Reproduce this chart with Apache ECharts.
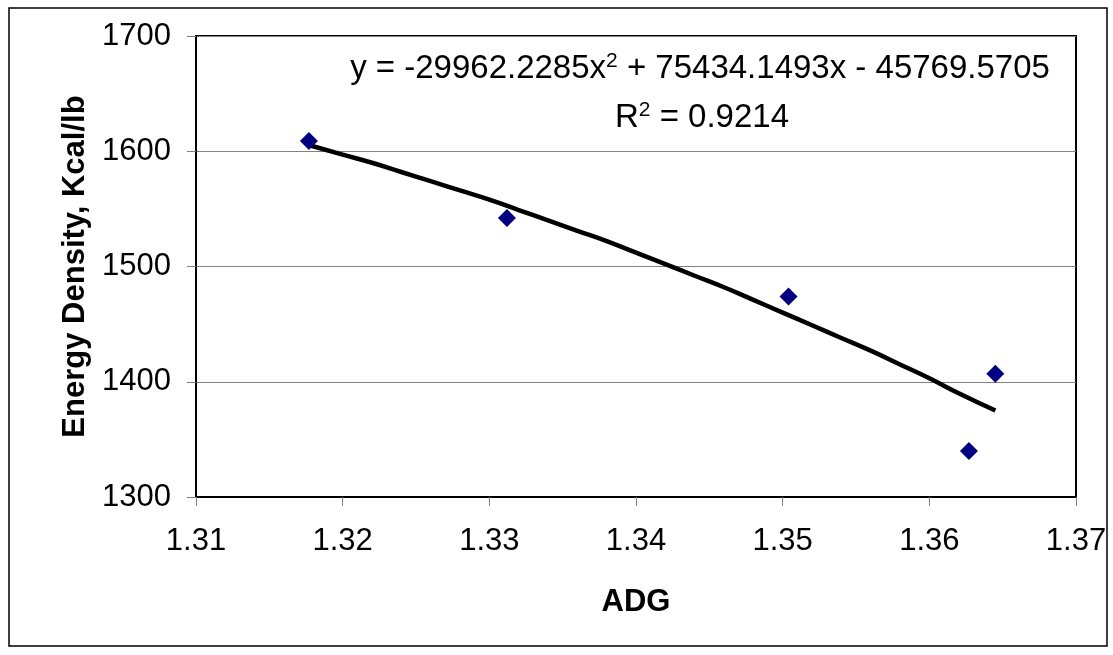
<!DOCTYPE html>
<html>
<head>
<meta charset="utf-8">
<script src="https://cdn.jsdelivr.net/npm/echarts@6/dist/echarts.min.js"></script>
<style>
html,body{margin:0;padding:0;background:#fff;}
#chart{width:1113px;height:655px;}
</style>
</head>
<body>
<div id="chart"></div>
<script>
// Observed data points (ADG, Energy Density)
const adg = [1.3177, 1.3312, 1.3504, 1.3627, 1.3645];
const energy = [1609, 1542, 1474, 1340, 1407];
// Trendline points
const trendX = [1.3178, 1.320, 1.322, 1.324, 1.326, 1.328, 1.330, 1.332, 1.334, 1.336, 1.338, 1.340,
                1.342, 1.344, 1.346, 1.348, 1.350, 1.352, 1.354, 1.356, 1.358, 1.360, 1.362, 1.3645];
const trendY = [1605, 1597, 1590, 1582, 1574, 1566, 1558, 1549, 1540, 1531, 1522, 1512,
                1502, 1492, 1482, 1471, 1460, 1449, 1438, 1427, 1415, 1403, 1390, 1375];
const xTicks = ['1.31', '1.32', '1.33', '1.34', '1.35', '1.36', '1.37'];
const yTicks = ['1300', '1400', '1500', '1600', '1700'];
const equationText = ['y = -29962.2285x', '2', ' + 75434.1493x - 45769.5705'];
const r2Text = ['R', '2', ' = 0.9214'];

const FONT = '"Liberation Sans", Arial, sans-serif';
const chart = echarts.init(document.getElementById('chart'));
const scatterData = adg.map((x, i) => [x, energy[i]]);
const trendData = trendX.map((x, i) => [x, trendY[i]]);

chart.setOption({
  backgroundColor: '#ffffff',
  animation: false,
  textStyle: { fontFamily: FONT },
  grid: {
    left: 196, right: 37, top: 36, bottom: 158,
    show: true, borderColor: '#000', borderWidth: 2, backgroundColor: '#fff'
  },
  xAxis: {
    type: 'value',
    min: Number(xTicks[0]), max: Number(xTicks[xTicks.length - 1]), interval: 0.01,
    name: 'ADG', nameLocation: 'middle', nameGap: 90,
    nameTextStyle: { fontSize: 31, fontWeight: 'bold', color: '#000', fontFamily: FONT },
    axisLine: { lineStyle: { color: '#000', width: 2 } },
    axisTick: { show: true, inside: false, length: 9, lineStyle: { color: '#808080', width: 1 } },
    axisLabel: { fontSize: 31, color: '#000', margin: 29, fontFamily: FONT,
      formatter: v => v.toFixed(2) },
    splitLine: { show: false }
  },
  yAxis: {
    type: 'value',
    min: Number(yTicks[0]), max: Number(yTicks[yTicks.length - 1]), interval: 100,
    name: 'Energy Density, Kcal/lb', nameLocation: 'middle', nameGap: 101,
    nameTextStyle: { fontSize: 31, fontWeight: 'bold', color: '#000', fontFamily: FONT },
    axisLine: { lineStyle: { color: '#000', width: 2 } },
    axisTick: { show: true, inside: false, length: 9, lineStyle: { color: '#808080', width: 1 } },
    axisLabel: { fontSize: 31, color: '#000', margin: 25, fontFamily: FONT,
      formatter: v => String(Math.round(v)) },
    splitLine: { show: true, lineStyle: { color: '#808080', width: 1 } }
  },
  series: [
    {
      type: 'line', data: trendData, showSymbol: false, smooth: true,
      lineStyle: { color: '#000', width: 4.5 }, z: 2
    },
    {
      type: 'scatter', data: scatterData, symbol: 'diamond', symbolSize: 18,
      itemStyle: { color: '#000080', opacity: 1 }, z: 3
    }
  ],
  graphic: [
    {
      type: 'rect', shape: { x: 9, y: 8, width: 1098, height: 638 },
      style: { fill: 'none', stroke: '#000', lineWidth: 1.5 }, silent: true, z: -1
    },
    {
      type: 'text', x: 700, y: 69,
      style: {
        text: '{n|' + equationText[0] + '}{s|' + equationText[1] + '}{n|' + equationText[2] + '}',
        align: 'center', verticalAlign: 'middle', fill: '#000',
        rich: {
          n: { fontSize: 33, fontFamily: FONT, fill: '#000', lineHeight: 36 },
          s: { fontSize: 21, fontFamily: FONT, fill: '#000', verticalAlign: 'top', lineHeight: 36 }
        }
      }
    },
    {
      type: 'text', x: 702, y: 118,
      style: {
        text: '{n|' + r2Text[0] + '}{s|' + r2Text[1] + '}{n|' + r2Text[2] + '}',
        align: 'center', verticalAlign: 'middle', fill: '#000',
        rich: {
          n: { fontSize: 33, fontFamily: FONT, fill: '#000', lineHeight: 36 },
          s: { fontSize: 21, fontFamily: FONT, fill: '#000', verticalAlign: 'top', lineHeight: 36 }
        }
      }
    }
  ]
});
</script>
</body>
</html>
